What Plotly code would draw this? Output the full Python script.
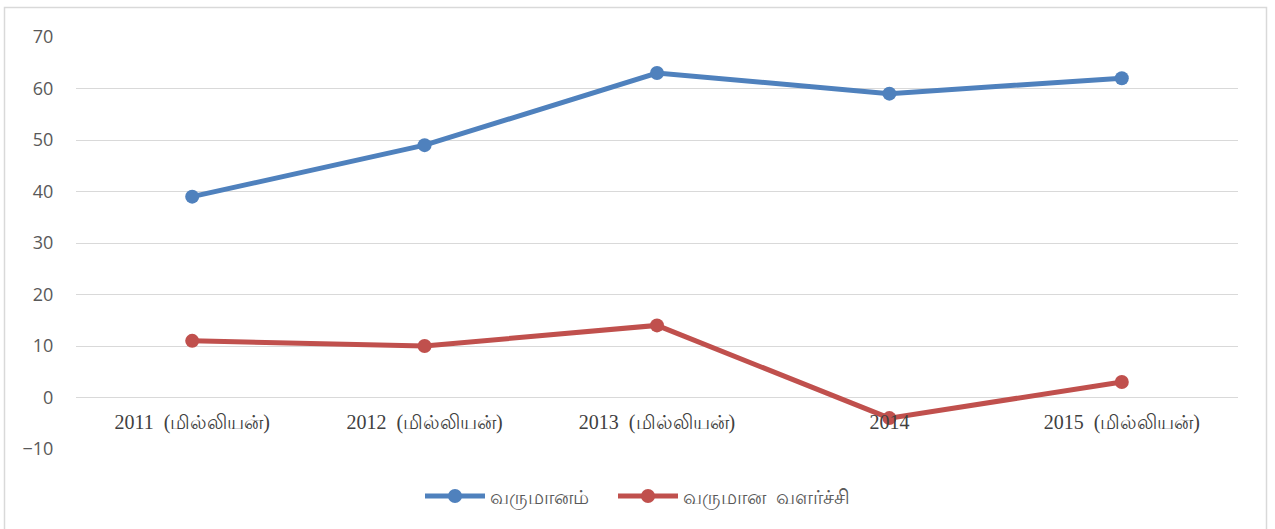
import plotly.graph_objects as go

categories = ["2011  (மில்லியன்)", "2012  (மில்லியன்)", "2013  (மில்லியன்)", "2014", "2015  (மில்லியன்)"]
revenue = [39, 49, 63, 59, 62]
growth = [11, 10, 14, -4, 3]
series_names = ["வருமானம்", "வருமான  வளர்ச்சி"]
y_ticks = [-10, 0, 10, 20, 30, 40, 50, 60, 70]

blue = "#4F81BD"
red = "#C0504D"

fig = go.Figure()
fig.add_trace(go.Scatter(x=categories, y=revenue, name=series_names[0], mode="lines+markers",
                         line=dict(color=blue, width=5), marker=dict(size=14, color=blue),
                         legend="legend"))
fig.add_trace(go.Scatter(x=categories, y=growth, name=series_names[1], mode="lines+markers",
                         line=dict(color=red, width=5), marker=dict(size=14, color=red),
                         legend="legend2"))

W, H = 1275, 529
L, R, T, B = 76, 37, 37, 80
pw, ph = W - L - R, H - T - B
zero_pos = (0 - (-10)) / 80.0

def px_x(x):
    return (x - L) / pw

def px_y(y):
    return (H - B - y) / ph

legend_font = dict(family="Noto Sans, Liberation Sans, sans-serif", size=20, color="#595959")

fig.update_layout(
    width=W, height=H,
    margin=dict(l=L, r=R, t=T, b=B, autoexpand=False),
    paper_bgcolor="white", plot_bgcolor="white",
    showlegend=True,
    legend=dict(orientation="h", x=px_x(420), xanchor="left", y=px_y(496), yanchor="middle",
                font=legend_font, itemwidth=60, bgcolor="rgba(0,0,0,0)"),
    legend2=dict(orientation="h", x=px_x(613), xanchor="left", y=px_y(496), yanchor="middle",
                 font=legend_font, itemwidth=60, bgcolor="rgba(0,0,0,0)"),
    xaxis=dict(type="category", range=[-0.5, 4.5], showgrid=False, zeroline=False,
               showline=False, ticks="", anchor="free", position=zero_pos, ticklabelstandoff=10,
               tickfont=dict(family="Liberation Serif, Times New Roman, serif", size=20, color="#404040")),
    yaxis=dict(range=[-10, 70], tickvals=y_ticks, showgrid=True, gridcolor="#D9D9D9", gridwidth=1,
               zeroline=False, showline=False, ticks="outside", ticklen=18, tickcolor="white",
               tickfont=dict(family="Open Sans, Liberation Sans, sans-serif", size=18, color="#595959")),
    shapes=[dict(type="rect", xref="paper", yref="paper",
                 x0=px_x(4.5), x1=px_x(1266.5),
                 y0=px_y(545), y1=px_y(7.5),
                 line=dict(color="#D9D9D9", width=1.5), fillcolor="rgba(0,0,0,0)", layer="below")],
)

fig.write_html("out.html", config={"displayModeBar": False},
               post_script="document.body.style.margin='0';")
